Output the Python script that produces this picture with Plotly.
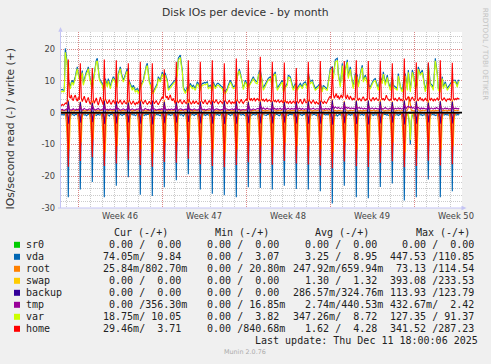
import pandas as pd
import plotly.graph_objects as go

# ---------------------------------------------------------------- data
# 2-hour averaged samples, Sat 2025-11-08 12:00 -> Thu 2025-12-11 18:00
times = pd.date_range("2025-11-08 12:00", "2025-12-11 18:00", freq="2h")

vda_write = [
    7.1, 7.1, 7.3, 7.0, 7.2, 20.2,
    17.5, 15.5, 10.2, 9.0, 8.1, 9.5, 10.2, 9.2, 10.0, 11.3, 13.0, 14.4,
    12.3, 11.0, 10.2, 11.5, 13.2, 9.2, 10.5, 12.3, 12.8, 13.4, 14.4, 12.0,
    10.2, 9.0, 8.1, 10.2, 13.0, 15.5, 16.5, 17.1, 12.3, 11.0, 10.2, 9.5,
    9.2, 7.6, 8.5, 10.7, 9.5, 8.6, 10.7, 9.5, 8.1, 9.5, 10.5, 11.3,
    10.8, 10.2, 9.5, 8.6, 12.3, 13.5, 14.4, 12.5, 11.3, 10.2, 11.0, 12.3,
    13.0, 13.9, 10.7, 10.0, 9.2, 8.3, 7.6, 8.6, 7.8, 7.1, 7.3, 7.6,
    6.6, 7.5, 8.1, 9.0, 9.7, 10.2, 12.0, 13.9, 14.8, 15.5, 11.3, 10.0,
    9.2, 7.8, 6.6, 6.6, 7.4, 8.1, 8.7, 9.2, 11.3, 10.8, 10.2, 11.5,
    12.8, 11.8, 12.0, 12.3, 11.2, 10.2, 7.6, 8.0, 8.6, 8.9, 9.2, 9.7,
    10.0, 10.2, 11.0, 12.3, 17.1, 17.8, 18.1, 15.5, 13.4, 8.1, 7.2, 6.6,
    7.3, 8.1, 7.6, 8.4, 9.2, 8.6, 8.1, 8.6, 8.0, 7.6, 8.6, 9.7,
    9.2, 8.4, 7.6, 8.5, 9.2, 9.2, 9.5, 9.3, 9.6, 9.7, 8.1, 8.4,
    8.6, 8.0, 7.6, 9.7, 8.8, 8.1, 8.7, 9.2, 9.2, 8.8, 8.5, 8.3,
    8.1, 7.1, 7.0, 6.6, 7.1, 7.6, 8.6, 9.4, 10.2, 9.5, 8.8, 8.1,
    8.3, 8.6, 10.0, 11.3, 13.4, 13.7, 12.5, 11.0, 10.2, 7.8, 8.8, 10.2,
    9.5, 8.6, 8.6, 9.0, 9.2, 10.0, 10.6, 11.3, 10.5, 10.0, 9.8, 9.7,
    12.3, 13.0, 13.4, 11.5, 10.2, 7.6, 8.4, 9.2, 9.7, 10.2, 10.8, 11.0,
    11.3, 10.0, 8.6, 11.8, 12.2, 12.8, 10.0, 7.6, 8.2, 8.7, 9.2, 9.7,
    10.2, 7.1, 7.6, 8.4, 8.8, 9.2, 11.8, 11.5, 11.3, 10.0, 8.6, 7.6,
    8.4, 9.2, 8.4, 7.6, 8.2, 8.7, 9.2, 8.6, 8.1, 9.2, 9.4, 9.7,
    8.9, 8.1, 12.3, 11.0, 9.7, 10.0, 10.2, 9.2, 8.4, 7.6, 7.9, 8.1,
    8.5, 8.9, 9.2, 8.0, 7.1, 8.6, 8.2, 7.9, 7.7, 7.6, 10.2, 12.0,
    13.9, 14.2, 14.4, 11.3, 14.0, 16.6, 16.9, 17.1, 12.3, 10.5, 8.6, 12.0,
    15.5, 10.2, 11.8, 13.4, 15.0, 16.6, 11.3, 12.8, 14.4, 11.8, 9.2, 8.1,
    10.2, 12.3, 12.0, 11.8, 8.6, 10.7, 12.8, 13.8, 14.9, 10.2, 11.0, 11.8,
    10.8, 9.7, 8.6, 8.3, 8.1, 8.9, 9.7, 10.2, 10.5, 10.7, 9.6, 8.6,
    7.6, 9.5, 11.3, 10.5, 9.7, 12.8, 11.0, 9.2, 10.5, 11.8, 9.7, 8.6,
    7.6, 9.5, 11.3, 8.6, 8.3, 8.0, 7.8, 7.6, 12.3, 10.2, 8.1, 7.6,
    7.1, 9.2, 10.8, 12.3, 10.0, 7.6, 13.4, 10.2, 7.1, 10.2, 13.4, 12.3,
    10.2, 8.1, 8.6, 9.2, 14.4, 13.4, 12.3, 12.8, 13.4, 11.3, 9.2, 7.1,
    8.6, 10.2, 15.5, 12.3, 9.2, 8.9, 8.6, 7.6, 12.3, 17.1, 14.7, 12.3,
    7.6, 7.3, 7.1, 9.2, 11.3, 8.1, 8.9, 9.7, 8.6, 7.6, 8.1, 8.6,
    9.2, 9.7, 10.0, 10.2, 10.2, 10.2, 9.4, 8.6, 10.2, 10.2,
]

var_write = [
    6.6, 6.5, 6.8, 6.5, 6.6, 19.0,
    16.8, 14.8, 9.6, 8.3, 7.5, 9.0, 9.6, 8.6, 9.4, 10.7, 12.4, 13.8,
    11.7, 10.3, 9.5, 10.9, 12.6, 8.6, 9.9, 11.7, 12.1, 12.8, 13.8, 11.4,
    9.6, 8.4, 7.4, 9.5, 12.4, 14.9, 15.9, 16.3, 11.6, 10.4, 9.6, 8.9,
    8.6, 7.0, 7.9, 10.1, 8.9, 8.0, 10.0, 8.9, 7.5, 8.9, 9.9, 10.7,
    10.2, 9.6, 8.8, 8.0, 11.7, 12.9, 13.8, 11.9, 10.7, 9.6, 10.4, 11.7,
    12.4, 13.1, 10.0, 9.4, 8.6, 7.7, 7.0, 8.0, 7.2, 6.5, 6.7, 7.0,
    6.0, 6.9, 7.4, 8.4, 9.1, 9.6, 11.4, 13.2, 14.2, 14.8, 10.7, 9.4,
    8.6, 7.2, 6.0, 6.0, 6.8, 7.5, 8.1, 8.6, 10.7, 10.2, 9.6, 10.9,
    12.2, 11.2, 11.3, 11.7, 10.6, 9.6, 7.0, 7.4, 8.0, 8.3, 8.6, 9.1,
    9.4, 9.6, 10.3, 11.7, 16.3, 17.0, 17.2, 14.8, 12.8, 7.5, 6.6, 6.0,
    6.7, 7.5, 6.9, 7.8, 8.6, 8.0, 7.5, 8.0, 7.4, 7.0, 8.0, 9.0,
    8.6, 7.8, 6.9, 7.9, 8.6, 8.6, 8.9, 8.7, 9.0, 9.1, 7.5, 7.8,
    8.0, 7.4, 6.9, 9.1, 8.2, 7.5, 8.1, 8.6, 8.6, 8.2, 7.9, 7.7,
    7.5, 6.5, 6.3, 6.0, 6.5, 7.0, 8.0, 8.8, 9.6, 8.9, 8.2, 7.5,
    7.7, 8.0, 9.3, 10.7, 12.7, 13.0, 11.9, 10.4, 9.6, 7.2, 8.2, 9.6,
    8.9, 8.0, 7.9, 8.4, 8.6, 9.4, 10.0, 10.7, 9.9, 9.4, 9.2, 9.1,
    11.7, 12.3, 12.7, 10.9, 9.6, 7.0, 7.7, 8.6, 9.1, 9.6, 10.2, 10.4,
    10.7, 9.4, 7.9, 11.2, 11.6, 12.2, 9.4, 7.0, 7.6, 8.1, 8.6, 9.1,
    9.6, 6.5, 6.9, 7.8, 8.2, 8.6, 11.2, 10.9, 10.7, 9.4, 8.0, 7.0,
    7.8, 8.6, 7.7, 7.0, 7.6, 8.1, 8.6, 8.0, 7.5, 8.6, 8.8, 9.1,
    8.3, 7.5, 11.6, 10.4, 9.1, 9.4, 9.6, 8.6, 7.8, 7.0, 7.3, 7.5,
    7.9, 8.3, 8.5, 7.4, 6.5, 8.0, 7.6, 7.3, 7.1, 7.0, 9.6, 11.3,
    13.2, 13.5, 13.6, 10.7, 13.3, 15.9, 16.2, 16.3, 11.6, 9.9, 8.0, 11.3,
    14.8, 9.6, 11.1, 12.8, 14.3, 15.9, 10.7, 12.1, 13.7, 11.2, 8.6, 7.5,
    9.6, 11.7, 11.3, 11.2, 8.0, 10.1, 12.1, 13.1, 14.2, 9.6, 10.4, 11.2,
    10.2, 9.1, 7.9, 7.7, 7.5, 8.3, 9.1, 9.6, 9.9, 10.1, 9.0, 8.0,
    7.0, 8.9, 10.6, 9.9, 9.1, 12.1, 10.4, 8.6, 9.9, 11.1, 9.1, 8.0,
    7.0, 8.9, 10.6, 8.0, 7.7, 7.4, 7.2, 7.0, 11.6, 9.6, 7.5, 7.0,
    6.5, 8.6, 10.1, 11.6, 9.4, 7.0, 12.7, 9.6, 6.5, 9.6, 12.7, 11.7,
    9.6, 7.5, 7.9, 8.6, 13.7, 12.8, 11.7, 12.2, 12.7, 10.7, 8.6, 6.5,
    8.0, 9.6, 14.7, 11.7, 8.6, 8.3, 8.0, 7.0, 11.6, 16.3, 14.0, 11.7,
    7.0, 6.7, 6.4, 8.6, 10.7, 7.5, 8.3, 9.1, 8.0, 7.0, 7.5, 8.0,
    8.6, 9.1, 9.4, 9.6, 9.6, 9.6, 8.8, 8.0, 9.6, 9.6,
]

home_write = [
    2.4, 2.2, 2.6, 2.3, 2.5, 3.0,
    2.8, 3.5, 16.7, 5.0, 4.5, 5.6, 4.2, 3.8, 5.0, 5.5, 4.3, 3.6,
    4.8, 4.0, 15.5, 4.6, 3.5, 4.4, 5.2, 3.9, 3.1, 4.1, 4.8, 3.4,
    2.6, 3.6, 14.0, 4.2, 2.9, 3.8, 4.6, 3.3, 2.4, 3.5, 4.9, 4.0,
    3.1, 2.5, 16.7, 4.4, 3.6, 2.8, 3.3, 4.1, 3.0, 2.6, 3.4, 3.9,
    3.2, 2.7, 16.5, 3.6, 2.9, 3.4, 4.0, 3.1, 2.6, 3.3, 3.8, 3.0,
    2.8, 3.5, 15.5, 3.9, 3.2, 2.6, 3.1, 3.7, 2.9, 2.5, 3.2, 2.8,
    3.4, 2.9, 16.0, 4.0, 3.3, 2.7, 3.5, 3.9, 3.1, 2.6, 3.0, 3.6,
    3.0, 2.6, 15.5, 3.7, 2.8, 3.2, 3.8, 3.0, 2.5, 3.1, 3.6, 4.3,
    5.0, 4.4, 13.6, 5.5, 4.6, 5.2, 4.0, 4.8, 5.6, 4.3, 3.7, 4.5,
    3.4, 2.8, 16.0, 3.9, 3.0, 3.5, 4.1, 3.2, 2.7, 3.4, 3.9, 3.1,
    2.9, 3.6, 16.5, 3.8, 3.1, 2.6, 3.2, 3.8, 2.8, 3.3, 3.7, 3.0,
    2.7, 3.3, 16.0, 3.9, 3.4, 2.8, 3.5, 4.0, 3.0, 2.7, 3.3, 3.8,
    3.1, 2.6, 16.5, 3.6, 3.0, 3.5, 4.1, 3.3, 2.8, 3.2, 3.7, 3.4,
    2.9, 3.4, 15.5, 3.8, 3.2, 2.7, 3.4, 3.9, 3.1, 2.8, 3.5, 3.0,
    3.3, 2.8, 17.0, 4.0, 3.4, 3.0, 3.6, 4.2, 3.3, 2.9, 3.5, 3.9,
    4.2, 3.7, 16.5, 4.3, 3.9, 4.5, 3.8, 4.1, 4.6, 3.7, 4.0, 4.4,
    4.1, 3.6, 17.6, 4.4, 3.8, 4.2, 3.6, 3.9, 4.3, 3.5, 3.8, 4.0,
    3.7, 3.4, 16.0, 4.0, 3.5, 3.9, 3.3, 3.6, 4.0, 3.2, 3.5, 3.8,
    3.4, 3.0, 15.8, 3.8, 3.1, 3.5, 2.9, 3.3, 3.7, 2.8, 3.2, 3.6,
    3.2, 2.8, 14.0, 3.6, 3.0, 3.4, 4.2, 3.1, 2.7, 3.3, 4.4, 3.5,
    3.0, 3.6, 16.0, 3.9, 3.3, 2.9, 3.5, 4.0, 3.2, 2.8, 3.4, 3.1,
    2.7, 3.2, 16.2, 3.7, 3.1, 2.8, 3.6, 3.2, 2.9, 3.5, 4.3, 4.8,
    5.2, 4.4, 14.4, 5.8, 4.5, 5.4, 6.0, 4.7, 5.3, 4.2, 5.0, 5.6,
    4.6, 5.5, 16.2, 5.0, 4.3, 5.6, 4.8, 4.1, 5.2, 4.4, 3.9, 4.6,
    4.0, 4.8, 16.5, 4.4, 3.8, 4.6, 4.1, 3.6, 4.5, 5.0, 4.2, 3.7,
    4.3, 3.9, 16.2, 4.5, 4.0, 3.6, 4.4, 4.8, 3.9, 4.2, 4.6, 4.0,
    3.8, 4.4, 16.3, 4.7, 4.0, 4.5, 3.9, 4.3, 5.5, 4.6, 4.1, 3.8,
    4.2, 3.8, 15.5, 4.4, 3.9, 4.6, 4.0, 3.7, 4.3, 4.8, 3.9, 4.2,
    3.7, 4.1, 17.0, 4.6, 3.9, 4.5, 5.1, 4.0, 3.6, 4.4, 4.9, 4.2,
    3.8, 4.3, 15.8, 4.2, 3.7, 4.4, 4.8, 3.9, 4.3, 3.6, 4.1, 4.5,
    4.0, 3.6, 15.8, 4.3, 3.9, 4.6, 4.1, 3.7, 4.4, 3.8, 4.2, 4.6,
    3.9, 4.3, 16.5, 4.5, 3.8, 4.2, 4.7, 4.0, 3.6, 4.3, 4.1, 4.4,
    3.9, 4.3, 15.7, 4.5, 4.0, 4.4, 4.1, 4.6, 4.3, 4.5,
]

vda_read = [
    -.5, -.7, -.6, -.8, -.5, -.9,
    -.7, -2.0, -26.6, -1.5, -.6, -.8, -.5, -.7, -.9, -.6, -.5, -.8,
    -.6, -2.2, -24.2, -1.4, -.7, -.5, -.8, -.6, -1.0, -.7, -.5, -.6,
    -.8, -1.9, -21.8, -1.6, -.5, -.7, -.9, -.6, -.5, -.8, -.7, -.6,
    -.5, -2.1, -26.6, -1.5, -.8, -.6, -.7, -1.1, -.6, -.5, -.7, -.9,
    -.6, -2.0, -23.0, -1.3, -.6, -.8, -.5, -.7, -.9, -.6, -.5, -.7,
    -.8, -1.8, -20.3, -1.5, -.7, -.5, -.6, -.8, -.6, -1.0, -.7, -.5,
    -.6, -2.3, -25.8, -1.6, -.5, -.7, -.9, -.6, -.8, -.5, -.6, -.7,
    -.7, -2.0, -26.2, -1.4, -.6, -.9, -.5, -.7, -.6, -.8, -1.0, -.6,
    -.5, -2.1, -23.5, -1.5, -.8, -.6, -.7, -.5, -.9, -.7, -.6, -.8,
    -.6, -1.9, -21.3, -1.3, -.7, -.5, -.8, -.6, -.7, -1.1, -.6, -.5,
    -.7, -2.0, -19.4, -1.5, -.6, -.8, -.5, -.7, -.9, -.6, -.5, -.7,
    -.8, -2.2, -24.2, -1.6, -.5, -.7, -.6, -.9, -.7, -.5, -.8, -.6,
    -.6, -2.0, -25.5, -1.4, -.7, -.6, -.8, -.5, -.6, -.9, -.7, -.6,
    -.5, -2.1, -26.0, -1.5, -.8, -.7, -.5, -.6, -1.0, -.7, -.6, -.8,
    -.7, -1.9, -26.6, -1.6, -.6, -.5, -.7, -.8, -.6, -.5, -.9, -.7,
    -.6, -2.0, -23.5, -1.4, -.7, -.9, -.6, -.5, -.7, -.8, -.6, -.5,
    -.8, -2.2, -23.7, -1.5, -.5, -.6, -.8, -.7, -.9, -.6, -.5, -.7,
    -.6, -2.0, -24.2, -1.3, -.7, -.8, -.5, -.6, -.7, -1.0, -.6, -.8,
    -.5, -2.1, -23.0, -1.5, -.6, -.7, -.9, -.5, -.6, -.8, -.7, -.6,
    -.7, -1.9, -24.0, -1.6, -.8, -.5, -.6, -.7, -.9, -.6, -.5, -.7,
    -.6, -2.0, -24.2, -1.4, -.5, -.7, -.8, -.6, -.5, -.7, -.9, -.6,
    -.8, -2.2, -24.7, -1.5, -.7, -.6, -.5, -.8, -.6, -.7, -.5, -.9,
    -.6, -2.1, -28.6, -1.7, -.8, -.9, -.6, -1.1, -.7, -.5, -.8, -.6,
    -.7, -2.0, -23.0, -1.5, -.6, -.8, -.7, -.5, -.9, -.6, -.7, -.8,
    -.5, -2.3, -26.6, -1.6, -.7, -.6, -.8, -.7, -.5, -.9, -.6, -.7,
    -.8, -2.1, -26.9, -1.4, -.6, -.5, -.7, -.9, -.6, -.7, -.8, -.5,
    -.6, -2.0, -23.4, -1.5, -.8, -.7, -.6, -.5, -.8, -.6, -.9, -.7,
    -.7, -1.9, -22.3, -1.3, -.5, -.8, -.7, -.6, -.9, -.7, -.5, -.6,
    -.8, -2.2, -27.6, -1.6, -.7, -.6, -.9, -3.5, -10.0, -2.5, -.7, -.8,
    -.6, -2.0, -26.6, -1.5, -.8, -.5, -.7, -.6, -.9, -.7, -.6, -.8,
    -.7, -2.1, -21.0, -1.4, -.6, -.8, -.5, -.7, -.6, -.9, -.7, -.6,
    -.5, -2.0, -26.6, -1.6, -.7, -.6, -.8, -.5, -.7, -.6, -.8, -.7,
    -.6, -2.2, -24.7, -1.5, -.7, -.5, -.8, -.6, -.7, -.6,
]

tmp_write = [
    .8, .9, 1.0, .8, .7, .9,
    1.0, 1.2, 2.2, 1.1, .9, .8, 1.0, 1.2, .9, .8, 1.1, 1.0,
    .9, 1.1, 2.0, 1.0, .8, 1.0, 1.3, 1.1, .9, .8, 1.0, 1.2,
    1.1, .9, 2.1, 1.2, 1.0, .8, .9, 1.1, 1.3, 1.0, .8, .9,
    1.0, 1.2, 2.3, 1.0, .9, 1.1, .8, .9, 1.2, 1.0, .9, 1.1,
    .9, 1.0, 2.0, 1.1, 1.3, 1.0, .8, .9, 1.1, 1.2, 1.0, .8,
    1.0, 1.1, 2.2, .9, .8, 1.0, 1.2, 1.0, .9, .8, 1.1, 1.0,
    1.2, 1.0, 2.1, 1.1, .9, .8, 1.0, 1.3, 1.1, .9, 1.0, .8,
    .9, 1.1, 2.0, 1.0, 1.2, 1.0, .8, .9, 1.0, 1.1, .9, 1.2,
    1.0, .9, 2.2, 1.2, 1.0, .8, 1.1, 1.0, .9, 1.2, 1.0, .9,
    1.1, 1.0, 2.1, .9, .8, 1.0, 1.2, 1.1, .9, .8, 1.0, 1.1,
    .9, 1.2, 2.3, 1.0, 1.1, .9, .8, 1.0, 1.2, 1.0, .9, .8,
    1.0, 1.1, 2.0, 1.2, 1.0, .9, 1.1, .8, .9, 1.1, 1.0, 1.2,
    1.1, .9, 2.2, 1.0, .8, 1.0, 1.2, 1.1, 1.0, .9, .8, 1.0,
    .9, 1.0, 2.1, 1.1, 1.2, 1.0, .9, .8, 1.0, 1.1, 1.2, .9,
    1.0, 1.2, 2.0, .9, 1.0, 1.1, .8, .9, 1.1, 1.0, .9, 1.0,
    1.1, 1.0, 2.3, 1.2, .9, .8, 1.0, 1.2, 1.0, .9, 1.1, 1.3,
    1.2, 1.4, 2.2, 1.3, 1.1, 1.5, 1.2, 1.0, 1.3, 1.4, 1.1, 1.2,
    1.0, 1.3, 2.1, 1.1, 1.4, 1.2, 1.0, 1.3, 1.1, 1.2, 1.4, 1.0,
    1.2, 1.1, 2.0, 1.3, 1.0, 1.2, 1.4, 1.1, 1.0, 1.3, 1.2, 1.1,
    1.3, 1.0, 2.2, 1.2, 1.1, 1.4, 1.2, 1.0, 1.3, 1.1, 1.0, 1.2,
    1.1, 1.3, 2.1, 1.0, 1.2, 1.1, 1.3, 1.4, 1.1, 1.0, 1.2, 1.3,
    1.2, 1.0, 2.3, 1.4, 1.1, 1.2, 1.0, 1.3, 1.2, 1.1, 1.3, 1.0,
    1.3, 1.5, 2.5, 1.6, 1.4, 1.8, 1.5, 1.3, 1.7, 1.4, 1.2, 1.5,
    1.4, 1.2, 2.4, 1.5, 1.7, 1.3, 1.6, 1.4, 1.2, 1.5, 1.3, 1.4,
    1.2, 1.5, 2.2, 1.3, 1.4, 1.6, 1.2, 1.5, 1.3, 1.1, 1.4, 1.2,
    1.3, 1.1, 2.1, 1.4, 1.2, 1.3, 1.5, 1.2, 1.1, 1.4, 1.3, 1.2,
    1.1, 1.4, 2.3, 1.2, 1.3, 1.1, 1.4, 1.6, 1.3, 1.2, 1.1, 1.3,
    1.4, 1.2, 2.0, 1.3, 1.1, 1.4, 1.2, 1.3, 1.5, 1.2, 1.4, 1.1,
    1.2, 1.5, 2.4, 1.6, 1.3, 1.8, 2.0, 1.7, 1.5, 1.9, 1.4, 1.6,
    1.3, 1.2, 2.2, 1.4, 1.6, 1.3, 1.1, 1.5, 1.2, 1.4, 1.3, 1.2,
    1.1, 1.4, 2.1, 1.3, 1.2, 1.5, 1.3, 1.1, 1.4, 1.2, 1.6, 1.3,
    1.2, 1.3, 2.3, 1.4, 1.2, 1.1, 1.3, 1.5, 1.2, 1.4, 1.1, 1.3,
    1.3, 1.1, 2.2, 1.5, 1.2, 1.4, 1.3, 1.1, 1.2, 1.4,
]

root_write = [
    .6, .5, .7, .6, .5, .6,
    .7, .9, 4.0, 1.2, .6, .5, .7, .6, .5, .8, .6, .7,
    .6, .8, 3.5, 1.0, .5, .7, .6, .5, .7, .6, .8, .6,
    .5, .9, 3.8, 1.1, .7, .6, .5, .7, .6, .5, .7, .6,
    .7, .8, 4.2, 1.2, .6, .5, .7, .6, .8, .6, .5, .7,
    .6, .9, 3.6, 1.0, .5, .7, .6, .5, .7, .6, .5, .6,
    .5, .8, 3.9, 1.1, .7, .6, .5, .7, .6, .8, .6, .5,
    .7, .9, 4.1, 1.0, .6, .5, .7, .6, .5, .7, .6, .7,
    .6, .8, 3.7, 1.2, .5, .7, .6, .8, .6, .5, .7, .6,
    .5, .9, 4.0, 1.1, .7, .6, .5, .7, .6, .5, .6, .7,
    .7, .8, 3.8, 1.0, .6, .5, .7, .6, .8, .6, .5, .6,
    .6, .9, 4.3, 1.2, .5, .7, .6, .5, .7, .6, .7, .5,
    .5, .8, 3.6, 1.1, .7, .6, .5, .7, .6, .8, .6, .7,
    .7, .9, 4.0, 1.0, .6, .5, .7, .6, .5, .7, .6, .5,
    .6, .8, 3.9, 1.2, .5, .7, .6, .8, .6, .5, .7, .6,
    .5, .9, 4.1, 1.1, .7, .6, .5, .7, .6, .5, .6, .7,
    .7, .8, 3.7, 1.0, .6, .5, .7, .6, .8, .6, .5, .6,
    .6, .9, 4.2, 1.2, .5, .7, .6, .5, .7, .6, .7, .5,
    .5, .8, 3.8, 1.1, .7, .6, .5, .7, .6, .8, .6, .7,
    .7, .9, 4.0, 1.0, .6, .5, .7, .6, .5, .7, .6, .5,
    .6, .8, 3.6, 1.2, .5, .7, .6, .8, .6, .5, .7, .6,
    .5, .9, 4.1, 1.1, .7, .6, .5, .7, .6, .5, .6, .7,
    .7, .8, 3.9, 1.0, .6, .5, .7, .6, .8, .6, .5, .6,
    .6, .9, 4.3, 1.2, .5, .7, .6, .5, .7, .6, .7, .5,
    .5, .8, 3.7, 1.1, .7, .6, .5, .7, .6, .8, .6, .7,
    .7, .9, 4.0, 1.0, .6, .5, .7, .6, .5, .7, .6, .5,
    .6, .8, 3.8, 1.2, .5, .7, .6, .8, .6, .5, .7, .6,
    .5, .9, 4.2, 1.1, .7, .6, .5, .7, .6, .5, .6, .7,
    .7, .8, 3.6, 1.0, .6, .5, .7, .6, .8, .6, .5, .6,
    .6, .9, 4.1, 1.2, .5, .7, 1.5, 5.0, 2.5, .6, .7, .5,
    .5, .8, 3.9, 1.1, .7, .6, .5, .7, .6, .8, .6, .7,
    .7, .9, 4.0, 1.0, .6, .5, .7, .6, .5, .7, .6, .5,
    .6, .8, 3.7, 1.2, .5, .7, .6, .8, .6, .5, .7, .6,
    .7, .9, 4.2, 1.1, .6, .7, .8, .6, .7, .8,
]

# values around the nightly 04:00 job, one per day (Nov 9 .. Dec 11)
home_read_0200 = [-1.2, -1.5, -0.9, -1.4, -1.1, -1.3, -1.6, -1.0, -1.2, -1.4, -0.8,
                  -1.3, -1.5, -1.1, -1.2, -1.4, -1.0, -1.3, -1.2, -1.5, -1.1, -1.3,
                  -1.6, -1.0, -1.4, -1.2, -1.3, -1.1, -1.5, -1.2, -0.9, -1.4, -1.2]
home_read_0400 = [-17.0, -15.2, -14.0, -16.8, -16.0, -15.0, -16.5, -17.0, -15.5, -15.8, -14.5,
                  -16.2, -16.8, -17.2, -16.5, -15.6, -15.9, -16.4, -15.2, -16.0, -16.3, -16.6,
                  -17.5, -15.4, -16.9, -17.1, -15.8, -15.3, -17.2, -16.8, -15.1, -16.6, -16.2]
home_read_0600 = [-3.2, -2.8, -2.5, -3.5, -3.0, -2.6, -3.3, -3.6, -2.9, -2.7, -2.4,
                  -3.1, -3.4, -3.7, -3.2, -2.9, -3.0, -3.1, -2.8, -3.0, -3.2, -3.3,
                  -3.8, -2.9, -3.5, -3.6, -3.0, -2.8, -3.7, -3.4, -2.7, -3.3, -3.1]
swap_read_0400 = [-12, -10, -9, -13, -11, -8, -12, -13, -10, -9, -8,
                  -11, -12, -13, -12, -10, -11, -11, -10, -11, -11, -12,
                  -13, -10, -12, -13, -11, -10, -13, -12, -9, -12, -11]
swap_read_0600 = [-11, -9, -8, -12, -10, -8, -11, -12, -9, -9, -8,
                  -10, -11, -12, -11, -9, -10, -10, -9, -10, -10, -11,
                  -12, -9, -11, -12, -10, -9, -12, -11, -8, -11, -10]
swap_read_0800 = [-2.0, -1.5, -1.2, -2.2, -1.8, -1.1, -2.0, -2.3, -1.6, -1.5, -1.2,
                  -1.8, -2.0, -2.2, -2.0, -1.6, -1.8, -1.8, -1.6, -1.8, -1.8, -2.0,
                  -2.3, -1.6, -2.0, -2.2, -1.8, -1.6, -2.2, -2.0, -1.4, -2.0, -1.8]
root_read_0000 = [-3.0, -2.5, -2.2, -3.4, -2.6, -2.1, -3.0, -3.3, -2.6, -2.3, -2.0,
                  -2.7, -3.0, -3.3, -3.0, -2.6, -2.7, -2.9, -2.5, -2.7, -2.9, -3.0,
                  -3.4, -2.6, -3.0, -3.3, -2.7, -2.5, -3.3, -3.0, -2.2, -3.0, -2.7]
root_read_0200 = [-11, -10, -9, -12, -10, -9, -11, -12, -10, -9, -9,
                  -10, -11, -12, -11, -10, -10, -11, -10, -10, -11, -11,
                  -12, -10, -11, -12, -10, -10, -12, -11, -9, -11, -10]
root_read_0400 = [-14, -13, -12, -15, -13, -12, -14, -15, -13, -12, -11,
                  -13, -14, -15, -14, -13, -13, -14, -13, -13, -14, -14,
                  -15, -13, -14, -15, -13, -12, -15, -14, -12, -14, -13]
backup_read_0400 = [-3.5, -3.2, -3.0, -3.6, -3.4, -3.1, -3.5, -3.7, -3.3, -3.2, -2.9,
                    -3.4, -3.5, -3.6, -3.5, -3.3, -3.4, -3.4, -3.2, -3.4, -3.5, -3.5,
                    -3.8, -3.3, -3.6, -3.7, -3.4, -3.2, -3.7, -3.5, -3.1, -3.5, -3.4]
backup_write_0400 = [3.6, 3.3, 3.1, 3.7, 3.5, 3.2, 3.6, 3.8, 3.4, 3.3, 3.0,
                     3.5, 3.6, 3.7, 3.6, 3.4, 3.5, 3.5, 3.3, 3.5, 3.6, 3.6,
                     3.9, 3.4, 3.7, 3.8, 3.5, 3.3, 3.8, 3.6, 3.2, 3.6, 3.5]
var_read_dec7 = {"2025-12-07 14:00": -3.0, "2025-12-07 16:00": -8.7, "2025-12-07 18:00": -2.0}

devices = ["sr0", "vda", "root", "swap", "backup", "tmp", "var", "home"]
colors = ["#00CC00", "#0066B3", "#FF8000", "#FFCC00", "#330099", "#990099", "#CCFF00", "#FF0000"]
cur_txt = ["  0.00 /  0.00 ", " 74.05m/  9.84 ", " 25.84m/802.70m", "  0.00 /  0.00 ",
           "  0.00 /  0.00 ", "  0.00 /356.30m", " 18.75m/ 10.05 ", " 29.46m/  3.71 "]
min_txt = ["  0.00 /  0.00 ", "  0.00 /  3.07 ", "  0.00 / 20.80m", "  0.00 /  0.00 ",
           "  0.00 /  0.00 ", "  0.00 / 16.85m", "  0.00 /  3.82 ", "  0.00 /840.68m"]
avg_txt = ["  0.00 /  0.00 ", "  3.25 /  8.95 ", "247.92m/659.94m", "  1.30 /  1.32 ",
           "286.57m/324.76m", "  2.74m/440.53m", "347.26m/  8.72 ", "  1.62 /  4.28 "]
max_txt = ["  0.00 /  0.00 ", "447.53 /110.85 ", " 73.13 /114.54 ", "393.08 /233.53 ",
           "113.93 /123.79 ", "432.67m/  2.42 ", "127.35 / 91.37 ", "341.52 /287.23 "]
week_starts = ["2025-11-10", "2025-11-17", "2025-11-24", "2025-12-01", "2025-12-08"]
week_labels = ["Week 46", "Week 47", "Week 48", "Week 49", "Week 50"]
y_ticks = [-30, -20, -10, 0, 10, 20]

# ---------------------------------------------------------------- build series
N = len(times)
for nm, arr in [("vda_write", vda_write), ("var_write", var_write), ("home_write", home_write),
                ("vda_read", vda_read), ("tmp_write", tmp_write), ("root_write", root_write)]:
    assert len(arr) == N, (nm, len(arr), N)
idx04 = [i for i, t in enumerate(times) if t.hour == 4]


def daily(*parts):
    y = [0.0] * N
    for offset, vals in parts:
        assert len(vals) == len(idx04)
        for i, v in zip(idx04, vals):
            y[i + offset] = v
    return y


home_read = daily((-1, home_read_0200), (0, home_read_0400), (1, home_read_0600))
swap_read = daily((0, swap_read_0400), (1, swap_read_0600), (2, swap_read_0800))
root_read = daily((-2, root_read_0000), (-1, root_read_0200), (0, root_read_0400))
backup_read = daily((0, backup_read_0400))
backup_write = daily((0, backup_write_0400))
var_read = [0.0] * N
for k, v in var_read_dec7.items():
    var_read[times.get_loc(pd.Timestamp(k))] = v
zeros = [0.0] * N

series = {
    "sr0": (zeros, zeros),
    "vda": (vda_read, vda_write),
    "root": (root_read, root_write),
    "swap": (swap_read, zeros),
    "backup": (backup_read, backup_write),
    "tmp": (zeros, tmp_write),
    "var": (var_read, var_write),
    "home": (home_read, home_write),
}

# ---------------------------------------------------------------- figure
W, H = 491, 364
ML, MR, MT, MB = 61, 29, 32, 156
PW, PH = W - ML - MR, H - MT - MB


def px(xp):
    return (xp - ML) / PW


def py(yp):
    return (H - MB - yp) / PH


fig = go.Figure()
for name, col in zip(devices, colors):
    rd, wr = series[name]
    for ys in (rd, wr):
        fig.add_trace(go.Scatter(x=times, y=ys, mode="lines", line=dict(color=col, width=1.1),
                                 hoverinfo="skip", showlegend=False))

MGRID = "rgba(230,80,80,0.55)"
GRID = "rgba(140,140,140,0.45)"
AXIS = "#C4C4F4"
SANS = "DejaVu Sans"
MONO = "DejaVu Sans Mono"

fig.update_layout(
    width=W, height=H, autosize=False,
    margin=dict(l=ML, r=MR, t=MT, b=MB, pad=0),
    paper_bgcolor="#F0F0F0", plot_bgcolor="#FFFFFF", showlegend=False,
    font=dict(family=SANS, size=8.3, color="#444444"),
    xaxis=dict(type="date", range=["2025-11-08 13:24", "2025-12-11 23:24"],
               tickmode="array", tickvals=week_starts, showticklabels=False, ticks="",
               showgrid=True, gridcolor=MGRID, griddash="1px,1px", gridwidth=1,
               zeroline=False, showline=False,
               minor=dict(dtick=86400000, tick0="2025-11-10", showgrid=True,
                          gridcolor=GRID, griddash="1px,1px", ticks="")),
    yaxis=dict(range=[-30, 25.36], tickmode="array", tickvals=y_ticks,
               ticktext=[str(v) for v in y_ticks], ticks="", ticklabelstandoff=5,
               tickfont=dict(family=SANS, size=8.3, color="#444444"),
               showgrid=True, gridcolor=MGRID, griddash="1px,1px", gridwidth=1,
               zeroline=False, showline=False,
               minor=dict(dtick=2, tick0=0, showgrid=True, gridcolor=GRID,
                          griddash="1px,1px", ticks="")),
)

shapes = []
# zero line
shapes.append(dict(type="line", xref="paper", yref="y", x0=0, x1=1, y0=0, y1=0,
                   line=dict(color="#000000", width=1.6), layer="above"))
# axes with arrows
shapes.append(dict(type="line", xref="paper", yref="paper", x0=px(60.5), x1=px(60.5),
                   y0=py(208), y1=py(31.5), line=dict(color=AXIS, width=1), layer="above"))
shapes.append(dict(type="line", xref="paper", yref="paper", x0=px(58), x1=px(462),
                   y0=py(208), y1=py(208), line=dict(color=AXIS, width=1), layer="above"))
shapes.append(dict(type="path", xref="paper", yref="paper",
                   path=f"M {px(58.3)} {py(31.8)} L {px(62.7)} {py(31.8)} L {px(60.5)} {py(27)} Z",
                   fillcolor=AXIS, line=dict(width=0), layer="above"))
shapes.append(dict(type="path", xref="paper", yref="paper",
                   path=f"M {px(461.5)} {py(205.8)} L {px(461.5)} {py(210.2)} L {px(466.5)} {py(208)} Z",
                   fillcolor=AXIS, line=dict(width=0), layer="above"))

ann = []


def text(xp, yp, s, size, color="#333333", family=SANS, xanchor="left", angle=0):
    ann.append(dict(xref="paper", yref="paper", x=px(xp), y=py(yp), text=s, showarrow=False,
                    xanchor=xanchor, yanchor="middle", textangle=angle, borderpad=0,
                    borderwidth=0, font=dict(family=family, size=size, color=color)))


text(245.5, 12, "Disk IOs per device - by month", 10.8, "#333333", xanchor="center")
text(9.5, 129, "IOs/second read (-) / write (+)", 10.8, "#333333", xanchor="center", angle=-90)
text(486.3, 54, "RRDTOOL / TOBI OETIKER", 7.2, "#C4C4C4", xanchor="center", angle=90)
text(245, 352, "Munin 2.0.76", 6.4, "#ABABAB", xanchor="center")

# week labels, centred mid-week
for ws, lab in zip(week_starts, week_labels):
    ann.append(dict(xref="x", yref="paper", x=pd.Timestamp(ws) + pd.Timedelta(hours=84),
                    y=py(215.5), text=lab, showarrow=False, xanchor="center", yanchor="middle",
                    borderpad=0, font=dict(family=SANS, size=8.3, color="#444444")))

NB = "\u00a0"
LEG = "#222222"
text(114.4, 232.7, "Cur (-/+)".replace(" ", NB), 10, LEG, MONO)
text(215.4, 232.7, "Min (-/+)".replace(" ", NB), 10, LEG, MONO)
text(315.4, 232.7, "Avg (-/+)".replace(" ", NB), 10, LEG, MONO)
text(416.1, 232.7, "Max (-/+)".replace(" ", NB), 10, LEG, MONO)
for k, (name, col) in enumerate(zip(devices, colors)):
    yy = 244.8 + 12 * k
    shapes.append(dict(type="rect", xref="paper", yref="paper", x0=px(14), x1=px(20),
                       y0=py(yy + 3), y1=py(yy - 3), fillcolor=col, line=dict(width=0)))
    text(26, yy, name, 10, LEG, MONO)
    text(97.3, yy, cur_txt[k].replace(" ", NB), 10, LEG, MONO)
    text(195.3, yy, min_txt[k].replace(" ", NB), 10, LEG, MONO)
    text(293.0, yy, avg_txt[k].replace(" ", NB), 10, LEG, MONO)
    text(390.3, yy, max_txt[k].replace(" ", NB), 10, LEG, MONO)
text(254.8, 340.5, "Last update: Thu Dec 11 18:00:06 2025".replace(" ", NB), 10, LEG, MONO)

fig.update_layout(shapes=shapes, annotations=ann)
fig.write_html("out.html", config={"displayModeBar": False},
               post_script="document.body.style.margin='0';document.body.style.padding='0';"
                           "document.body.style.overflow='hidden';")
